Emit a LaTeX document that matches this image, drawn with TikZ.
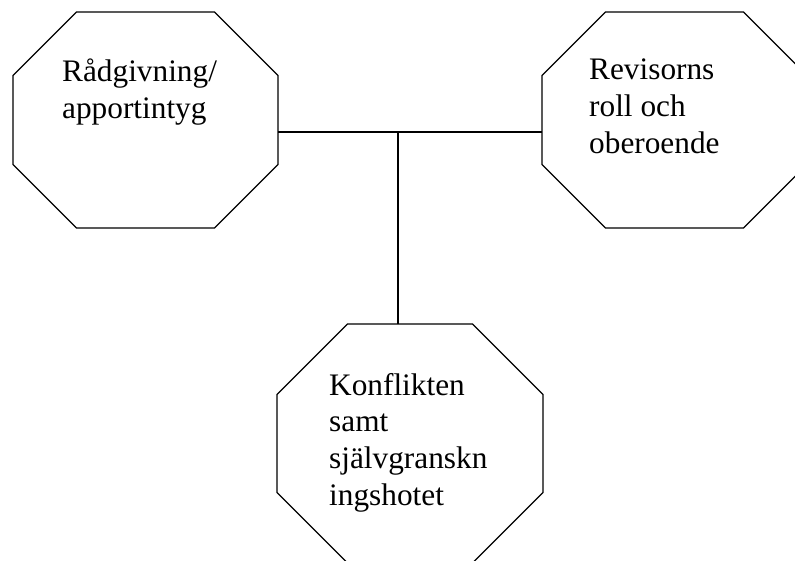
\documentclass[tikz,border=0pt]{standalone}
\usepackage{fontspec}
\setmainfont{Liberation Serif}
\usetikzlibrary{positioning}

% octagon drawn round a named box: #1 node name, #2 chamfer
\newcommand{\octo}[2]{%
  \draw[line width=1.1pt] ([xshift=#2]#1.north west) -- ([xshift=-#2]#1.north east)
    -- ([yshift=-#2]#1.north east) -- ([yshift=#2]#1.south east)
    -- ([xshift=-#2]#1.south east) -- ([xshift=#2]#1.south west)
    -- ([yshift=#2]#1.south west) -- ([yshift=-#2]#1.north west) -- cycle;}

\begin{document}
\begin{tikzpicture}[
        x=1pt, y=-1pt,
        box/.style = {
            rectangle,
            minimum width = #1,
            inner sep = 0pt,
            outer sep = 0pt
        },
        box/.default = 265pt,
        txt/.style = {
            anchor = north west,
            align = left,
            inner sep = 0pt,
            font = \fontsize{31.3}{36.7}\selectfont
        }
        ]
        \useasboundingbox (0,0) rectangle (795,561);
%
        \node[box, minimum height=216pt] (rad) at (145.5,120) {};
        \node[box, minimum height=216pt, right=264pt of rad] (rev) {};
        \node[box=266pt, minimum height=239pt] (kon) at (410,443.5) {};
%
        \octo{rad}{63.5pt}
        \octo{rev}{63.5pt}
        \octo{kon}{70.5pt}
%
        \node[txt] (radtxt) at ([shift={(49pt,-47pt)}]rad.north west) {Rådgivning/\\apportintyg};
        \node[txt] (revtxt) at ([shift={(47pt,-47pt)}]rev.north west) {Revisorns\\roll och\\oberoende};
        \node[txt] (kontxt) at ([shift={(52pt,-49pt)}]kon.north west) {Konflikten\\samt\\självgranskn\\ingshotet};
%
        \coordinate (knut) at (398,132);
        \draw[line width=1.1pt] (rad.east |- knut) -- (rev.west |- knut);
        \draw[line width=1.1pt] (knut) -- (knut |- kon.north);
%
\end{tikzpicture}
\end{document}
